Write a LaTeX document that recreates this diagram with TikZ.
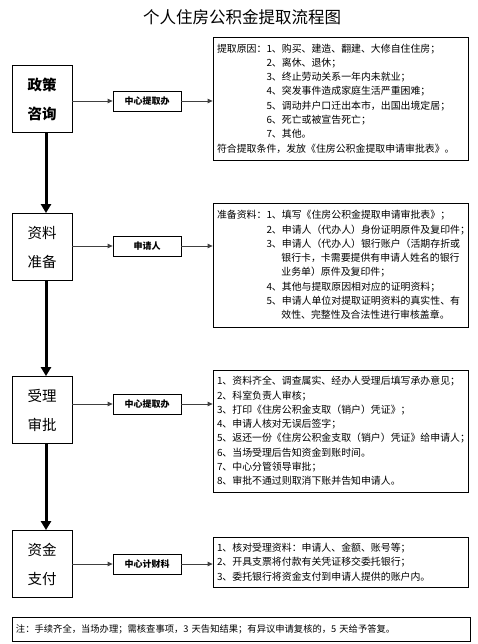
\documentclass[tikz,border=0pt]{standalone}
\usepackage{fontspec}
\setmainfont{Noto Sans CJK SC}
\usetikzlibrary{arrows.meta, positioning}

\begin{document}
\begin{tikzpicture}[x=1pt, y=-1pt,
  stage/.style={draw, line width=0.8pt, minimum width=60pt, minimum height=67pt, align=center, font=\fontsize{14.5}{29}\selectfont},
  dept/.style={draw, line width=0.8pt, minimum width=68pt, minimum height=20pt, inner sep=1pt, font=\fontsize{9}{10}\selectfont\bfseries},
  info/.style={draw, line width=0.8pt, text width=247pt, inner sep=4pt, align=left, font=\fontsize{9.9}{14.3}\selectfont},
  flow/.style={-{Triangle[length=5pt, width=4.5pt]}, draw=black!75, line width=0.8pt},
  down/.style={-{Triangle[length=9pt, width=10pt]}, line width=3pt}
]
\useasboundingbox (0,0) rectangle (478,644);

\node[font=\fontsize{16.5}{18}\selectfont] (title) at (242,17) {个人住房公积金提取流程图};

\node[stage, font=\fontsize{14.5}{29}\selectfont\bfseries] (policy) at (42,99) {政策\\咨询};
\node[stage] (prep) at (42,247) {资料\\准备};
\node[stage] (review) at (42,410) {受理\\审批};
\node[stage] (pay) at (42,564) {资金\\支付};

\node[dept] (office1) at (147,101) {中心提取办};
\node[dept] (applicant) at (147,246) {申请人};
\node[dept] (office2) at (147,404) {中心提取办};
\node[dept] (finance) at (147,564) {中心计财科};

\node[info, minimum height=123pt] (why) at (340.5,98.5) {提取原因：1、购买、建造、翻建、大修自住住房；\\
\hspace*{5em}2、离休、退休；\\
\hspace*{5em}3、终止劳动关系一年内未就业；\\
\hspace*{5em}4、突发事件造成家庭生活严重困难；\\
\hspace*{5em}5、调动并户口迁出本市，出国出境定居；\\
\hspace*{5em}6、死亡或被宣告死亡；\\
\hspace*{5em}7、其他。\\
符合提取条件，发放《住房公积金提取申请审批表》。};

\node[info, minimum height=124pt] (docs) at (340.5,265) {准备资料：1、填写《住房公积金提取申请审批表》；\\
\hspace*{5em}2、申请人（代办人）身份证明原件及复印件；\\
\hspace*{5em}3、申请人（代办人）银行账户（活期存折或\\
\hspace*{6.5em}银行卡，卡需要提供有申请人姓名的银行\\
\hspace*{6.5em}业务单）原件及复印件；\\
\hspace*{5em}4、其他与提取原因相对应的证明资料；\\
\hspace*{5em}5、申请人单位对提取证明资料的真实性、有\\
\hspace*{6.5em}效性、完整性及合法性进行审核盖章。};

\node[info, minimum height=122pt] (check) at (340.5,431) {1、资料齐全、调查属实、经办人受理后填写承办意见；\\
2、科室负责人审核；\\
3、打印《住房公积金支取（销户）凭证》；\\
4、申请人核对无误后签字；\\
5、返还一份《住房公积金支取（销户）凭证》给申请人；\\
6、当场受理后告知资金到账时间。\\
7、中心分管领导审批；\\
8、审批不通过则取消下账并告知申请人。};

\node[info, minimum height=50pt] (transfer) at (340.5,562) {1、核对受理资料：申请人、金额、账号等；\\
2、开具支票将付款有关凭证移交委托银行；\\
3、委托银行将资金支付到申请人提供的账户内。};

\node[info, text width=450pt, minimum height=24pt, font=\fontsize{9.3}{11}\selectfont] (note) at (241,629) {注：手续齐全，当场办理；需核查事项，3 天告知结果；有异议申请复核的，5 天给予答复。};

\draw[flow] (policy.east |- office1.west) -- (office1.west);
\draw[flow] (office1.east) -- (office1.east -| why.west);
\draw[flow] (prep.east |- applicant.west) -- (applicant.west);
\draw[flow] (applicant.east) -- (applicant.east -| docs.west);
\draw[flow] (review.east |- office2.west) -- (office2.west);
\draw[flow] (office2.east) -- (office2.east -| check.west);
\draw[flow] (pay.east |- finance.west) -- (finance.west);
\draw[flow] (finance.east) -- (finance.east -| transfer.west);

\draw[down] ([xshift=4pt]policy.south) -- ([xshift=4pt]prep.north);
\draw[down] ([xshift=4pt]prep.south) -- ([xshift=4pt]review.north);
\draw[down] ([xshift=4pt]review.south) -- ([xshift=4pt]pay.north);
\end{tikzpicture}
\end{document}
